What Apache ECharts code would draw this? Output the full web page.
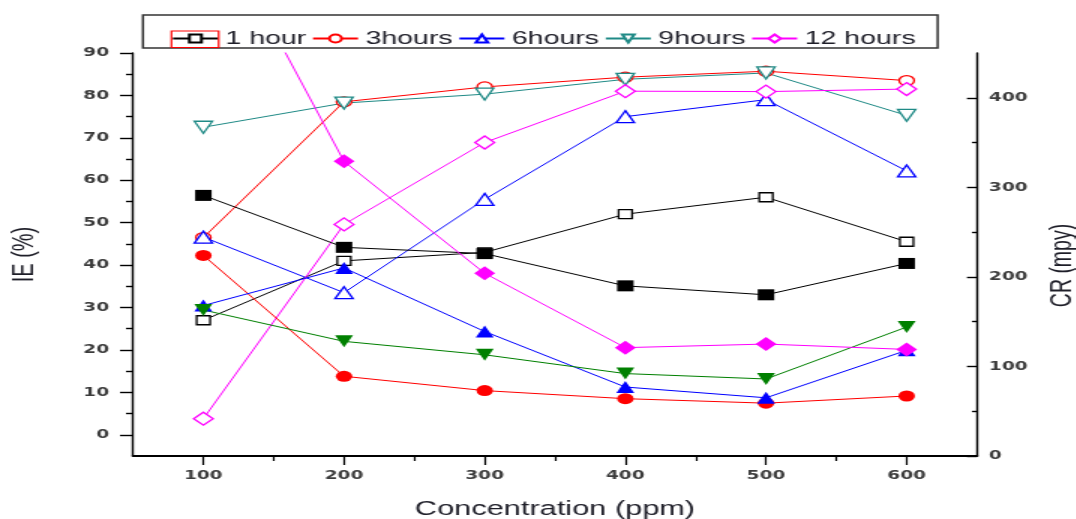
<!DOCTYPE html>
<html>
<head>
<meta charset="utf-8">
<script src="https://cdn.jsdelivr.net/npm/echarts@6/dist/echarts.min.js"></script>
<style>
html,body{margin:0;padding:0;background:#fff;overflow:hidden;}
#wrap{width:1076px;height:519px;overflow:hidden;position:relative;}
#c{position:absolute;left:0;top:0;height:519px;transform-origin:0 0;}
</style>
</head>
<body>
<div id="wrap"><div id="c"></div></div>
<script>
// ---- data ----
const concentration = [100, 200, 300, 400, 500, 600];
const seriesNames = ['1 hour', '3hours', '6hours', '9hours', '12 hours'];
// inhibition efficiency IE (%) - open markers, left axis
const ie1h  = [27, 41, 43, 52, 56, 45.5];
const ie3h  = [46.5, 78.5, 82, 84.3, 85.7, 83.5];
const ie6h  = [46.6, 33.5, 55.5, 75, 79, 62.2];
const ie9h  = [72.5, 78.2, 80.3, 83.8, 85.3, 75.3];
const ie12h = [3.8, 49.6, 68.9, 81, 80.9, 81.5];
// corrosion rate CR (mpy) - filled markers, right axis
const cr1h  = [291, 233, 226, 190, 180, 215];
const cr3h  = [224, 89, 73, 64, 59, 67];
const cr6h  = [168, 210, 139, 77, 65, 118];
const cr9h  = [163, 128, 113, 92, 86, 144];
const cr12h = [620, 329, 204, 121, 125, 119];
// tick labels
const xTicks = [100, 200, 300, 400, 500, 600];
const xMinorTicks = [150, 250, 350, 450, 550];
const ieTicks = [0, 10, 20, 30, 40, 50, 60, 70, 80, 90];
const ieMinorTicks = [5, 15, 25, 35, 45, 55, 65, 75, 85];
const crTicks = [0, 100, 200, 300, 400];
const crMinorTicks = [50, 150, 250, 350];

// ---- layout (the reference image is horizontally stretched) ----
const SX = 1.5;
const W = 1076 / SX;
const el = document.getElementById('c');
el.style.width = W + 'px';
el.style.transform = 'scaleX(' + SX + ')';

const chart = echarts.init(el, null, {renderer: 'canvas', width: W, height: 519});

const pair = (ys) => concentration.map((x, i) => [x, ys[i]]);
const tickFont = {fontFamily: 'DejaVu Sans', fontWeight: 'bold', fontSize: 12.3, color: '#3c3c3c'};
const nameFont = {fontFamily: 'Liberation Sans, Arial', fontSize: 20.5, color: '#1e1e28'};
const invTri = 'path://M0,0 L10,0 L5,9 Z';

function openS(name, ys, color, symbol, size) {
  return {
    name: name, type: 'line', xAxisIndex: 0, yAxisIndex: 0, data: pair(ys),
    symbol: symbol, symbolSize: size, showSymbol: true, z: 3,
    lineStyle: {color: color, width: 1},
    itemStyle: {color: '#ffffff', borderColor: color, borderWidth: 1.3},
    emphasis: {disabled: true}, animation: false
  };
}
function filledS(name, ys, color, symbol, size) {
  return {
    name: name, type: 'line', xAxisIndex: 0, yAxisIndex: 1, data: pair(ys),
    symbol: symbol, symbolSize: size, showSymbol: true, z: 4,
    lineStyle: {color: color, width: 1},
    itemStyle: {color: color, borderColor: color, borderWidth: 0},
    emphasis: {disabled: true}, animation: false
  };
}

const option = {
  backgroundColor: '#ffffff',
  animation: false,
  grid: {left: 88.7, right: 66, top: 53, bottom: 63, outerBoundsMode: 'none'},
  legend: {
    data: seriesNames,
    left: 95.3, top: 15,
    orient: 'horizontal',
    itemWidth: 30, itemHeight: 10, itemGap: 3.5,
    padding: [14, 14.7, 0, 19],
    borderColor: '#333', borderWidth: 1.5,
    textStyle: {fontFamily: 'Liberation Sans, Arial', fontSize: 19, color: '#1e1e28'},
    selectedMode: false
  },
  graphic: [{
    type: 'rect', z: 100,
    shape: {x: 114.3, y: 31, width: 31.5, height: 16.5},
    style: {fill: 'none', stroke: '#ff0000', lineWidth: 1.2}
  }],
  xAxis: [
    {
      type: 'value', min: 50, max: 650, position: 'bottom', gridIndex: 0,
      axisLine: {show: true, onZero: false, lineStyle: {color: '#000', width: 2}},
      axisTick: {show: true, customValues: xTicks, length: 9, lineStyle: {color: '#000', width: 1.2}},
      axisLabel: Object.assign({customValues: xTicks, margin: 14}, tickFont),
      splitLine: {show: false},
      name: 'Concentration (ppm)', nameLocation: 'middle', nameGap: 43,
      nameTextStyle: nameFont
    },
    {
      type: 'value', min: 50, max: 650, position: 'bottom', gridIndex: 0,
      axisLine: {show: false, onZero: false},
      axisTick: {show: true, customValues: xMinorTicks, length: 5, lineStyle: {color: '#000', width: 1.2}},
      axisLabel: {show: false}, splitLine: {show: false}
    }
  ],
  yAxis: [
    {
      type: 'value', min: -5, max: 90, position: 'left', gridIndex: 0,
      axisLine: {show: true, onZero: false, lineStyle: {color: '#000', width: 1.4}},
      axisTick: {show: true, customValues: ieTicks, length: 8.7, lineStyle: {color: '#000', width: 1.4}},
      axisLabel: Object.assign({customValues: ieTicks, margin: 16}, tickFont),
      splitLine: {show: false},
      name: 'IE (%)', nameLocation: 'middle', nameRotate: 90, nameGap: 62,
      nameTextStyle: Object.assign({}, nameFont, {fontSize: 20})
    },
    {
      type: 'value', min: 0, max: 450, position: 'right', gridIndex: 0,
      axisLine: {show: true, onZero: false, lineStyle: {color: '#000', width: 1.4}},
      axisTick: {show: true, inside: true, customValues: crTicks, length: 6.7, lineStyle: {color: '#000', width: 1.4}},
      axisLabel: Object.assign({customValues: crTicks, margin: 8}, tickFont),
      splitLine: {show: false},
      name: 'CR (mpy)', nameLocation: 'middle', nameRotate: 90, nameGap: 47,
      nameTextStyle: Object.assign({}, nameFont, {fontSize: 19.5, padding: [0, 22, 0, 0]})
    },
    {
      type: 'value', min: -5, max: 90, position: 'left', gridIndex: 0,
      axisLine: {show: false, onZero: false},
      axisTick: {show: true, customValues: ieMinorTicks, length: 4.7, lineStyle: {color: '#000', width: 1.4}},
      axisLabel: {show: false}, splitLine: {show: false}
    },
    {
      type: 'value', min: 0, max: 450, position: 'right', gridIndex: 0,
      axisLine: {show: false, onZero: false},
      axisTick: {show: true, inside: true, customValues: crMinorTicks, length: 3.4, lineStyle: {color: '#000', width: 1.4}},
      axisLabel: {show: false}, splitLine: {show: false}
    }
  ],
  series: [
    openS('1 hour', ie1h, '#000000', 'rect', 9),
    openS('3hours', ie3h, '#ff0000', 'circle', 10),
    openS('6hours', ie6h, '#0000ff', 'triangle', 12),
    openS('9hours', ie9h, '#1f8a86', invTri, 12),
    openS('12 hours', ie12h, '#ff00ff', 'diamond', 13),
    filledS('CR 1 hour', cr1h, '#000000', 'rect', 11),
    filledS('CR 3hours', cr3h, '#ff0000', 'circle', 11),
    filledS('CR 6hours', cr6h, '#0000ff', 'triangle', 12),
    filledS('CR 9hours', cr9h, '#008000', invTri, 12),
    filledS('CR 12 hours', cr12h, '#ff00ff', 'diamond', 14)
  ]
};
chart.setOption(option);
</script>
</body>
</html>
